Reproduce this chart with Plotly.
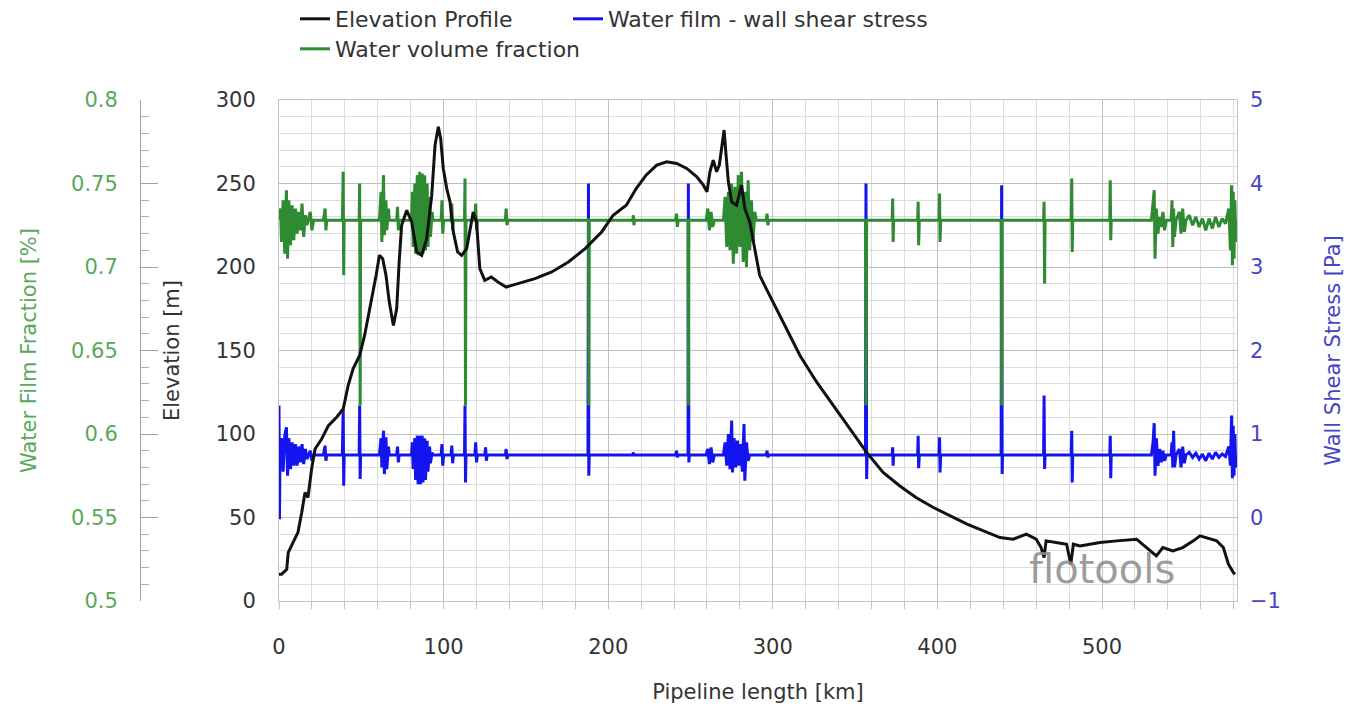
import plotly.graph_objects as go

# ---------------- data ----------------
elev_km = [0, 1.6, 4.7, 5.6, 8.5, 11.5, 13.8, 15.8, 17.6, 19.8, 21.9, 25.9, 30, 35, 39, 42, 45, 49,
           52, 56, 59, 61, 63, 65, 67, 69.5, 71.5, 73, 74.5, 77.6, 80.6, 83.7, 86.7, 89.7, 92.8,
           94.8, 96.8, 98.2, 99.8, 101.9, 103.9, 105.9, 108.5, 111, 114, 118, 120, 122, 125, 129,
           133, 138, 145, 155.5, 165.7, 175.8, 186, 196, 203, 211, 217, 223, 229.5, 235.5, 241.6,
           247.7, 253.8, 257.8, 260, 261.8, 263.8, 265.9, 267.5, 269, 270.4, 271.6, 273, 275, 278,
           281, 283, 286, 289, 292, 296, 306, 316.5, 326.7, 336.8, 347, 357, 367, 377, 387, 397.5,
           418, 438, 446, 454, 460, 463, 464.8, 466, 472, 478.5, 481, 482.6, 486.6, 498.8, 509,
           521, 527, 533, 537, 543, 549, 555.5, 559.5, 565.6, 569.7, 573.7, 576.8, 579.8, 580.8]
elev_m = [16, 16, 19, 29, 35, 41, 53, 65, 62, 79, 91, 97, 105, 110, 115, 129, 139, 147,
          159, 179, 195, 207, 205, 195, 179, 165, 175, 203, 225, 234, 227, 209, 207, 217, 243,
          273, 284, 277, 259, 247, 239, 221, 209, 207, 211, 233, 227, 199, 192, 194,
          191, 188, 190, 193, 197, 203, 211, 221, 231, 237, 247, 255, 261, 263, 262,
          259, 254, 249, 245, 257, 264, 257, 261, 271, 282, 267, 251, 239, 237,
          249, 235, 227, 211, 195, 187, 167, 147, 131, 117, 103, 89, 77, 69, 62, 56,
          46, 38, 37, 40, 37, 32, 26, 36, 35, 34, 22, 34, 33, 35, 36,
          37, 32, 27, 32, 30, 32, 36, 39, 37, 36, 32, 22, 17, 16]

wvf_km = [0, 1, 1.5, 2.5, 3.5, 4.5, 5.2, 6, 7, 8, 9, 10, 11, 12, 13, 14, 15, 16, 17, 19, 20, 21,
          27, 28, 28.5, 29, 38.5, 39, 39.3, 39.6, 48.7, 49, 49.3, 49.6,
          61, 62, 62.5, 63.5, 64, 65, 65.5, 66.5, 67, 71.5, 72, 72.5, 73,
          80.5, 81, 81.5, 82.5, 83, 84, 84.5, 85.5, 86, 87, 87.5, 88.5, 89, 90, 90.5, 91.5, 92, 93, 93.5,
          98.5, 99, 99.5, 100, 104.5, 105, 105.5, 106, 112.7, 113, 113.3, 113.6,
          119, 119.5, 120, 120.5, 137.5, 138, 138.5, 139, 187.7, 188, 188.2, 188.5,
          215, 215.3, 215.6, 216, 241, 241.5, 242, 242.5, 248.5, 248.7, 249, 249.3,
          259.5, 260.5, 261.5, 262.5, 263.5, 264.5,
          270, 271, 272, 273, 274, 275, 276, 277, 278, 279, 280, 281, 282, 283, 284, 285, 286, 287, 288, 289, 290,
          296, 296.5, 297, 297.5, 356.3, 356.6, 357, 357.3, 372.5, 372.8, 373.1, 373.4,
          388, 388.3, 388.6, 389, 401, 401.3, 401.6, 402, 438.7, 439, 439.3, 439.6,
          464.5, 464.8, 465.1, 465.4, 481.3, 481.6, 481.9, 482.2, 504.7, 505, 505.3, 505.6,
          530, 531, 531.7, 532.2, 533, 534, 535, 536, 537, 538, 539,
          542, 542.5, 543, 543.5, 544, 545, 547, 548, 549, 550, 551,
          553, 555, 557, 559, 561, 563, 565, 567, 569, 571, 573, 575,
          577, 578, 578.7, 579.2, 579.7, 580.2, 580.7, 581.2, 582]
wvf_val = [0.728, 0.735, 0.715, 0.740, 0.708, 0.746, 0.705, 0.740, 0.713, 0.737, 0.716, 0.735, 0.720,
           0.733, 0.722, 0.738, 0.718, 0.731, 0.725, 0.733, 0.722, 0.728,
           0.728, 0.735, 0.722, 0.728, 0.728, 0.757, 0.695, 0.728, 0.728, 0.750, 0.617, 0.728,
           0.728, 0.745, 0.715, 0.755, 0.719, 0.740, 0.722, 0.735, 0.728, 0.728, 0.736, 0.722, 0.728,
           0.728, 0.745, 0.712, 0.750, 0.708, 0.755, 0.707, 0.757, 0.707, 0.756, 0.708, 0.755, 0.710,
           0.750, 0.712, 0.742, 0.718, 0.733, 0.728,
           0.728, 0.740, 0.720, 0.728, 0.728, 0.738, 0.722, 0.728, 0.728, 0.753, 0.617, 0.728,
           0.728, 0.738, 0.722, 0.728, 0.728, 0.735, 0.725, 0.728, 0.728, 0.729, 0.617, 0.728,
           0.728, 0.731, 0.725, 0.728, 0.728, 0.732, 0.724, 0.728, 0.728, 0.617, 0.728, 0.728,
           0.728, 0.735, 0.722, 0.733, 0.724, 0.728,
           0.728, 0.742, 0.712, 0.745, 0.710, 0.750, 0.702, 0.748, 0.708, 0.755, 0.712, 0.757, 0.703,
           0.745, 0.700, 0.752, 0.710, 0.740, 0.715, 0.733, 0.728,
           0.728, 0.732, 0.725, 0.728, 0.728, 0.617, 0.728, 0.728, 0.728, 0.741, 0.715, 0.728,
           0.728, 0.739, 0.713, 0.728, 0.728, 0.744, 0.715, 0.728, 0.728, 0.617, 0.728, 0.728,
           0.728, 0.739, 0.690, 0.728, 0.728, 0.753, 0.709, 0.728, 0.728, 0.752, 0.716, 0.728,
           0.728, 0.738, 0.746, 0.705, 0.735, 0.720, 0.730, 0.724, 0.733, 0.722, 0.728,
           0.728, 0.740, 0.712, 0.735, 0.718, 0.728, 0.733, 0.720, 0.735, 0.721, 0.728,
           0.731, 0.725, 0.730, 0.724, 0.729, 0.722, 0.729, 0.723, 0.730, 0.724, 0.729, 0.726,
           0.735, 0.710, 0.749, 0.701, 0.745, 0.705, 0.740, 0.715, 0.728]

wss_km = [0, 0.3, 0.6, 1.5, 2.5, 3.5, 4.5, 5.2, 6, 7, 8, 9, 10, 11, 12, 13, 14, 15, 16, 17, 19, 20, 21,
          27, 28, 28.5, 29, 38.5, 39, 39.3, 39.6, 48.7, 49, 49.3, 49.6,
          61, 62, 62.5, 63.5, 64, 65, 65.5, 66.5, 67, 71.5, 72, 72.5, 73,
          80.5, 81, 81.5, 82.5, 83, 84, 84.5, 85.5, 86, 87, 87.5, 88.5, 89, 90, 90.5, 91.5, 92, 93, 93.5,
          98.5, 99, 99.5, 100, 104.5, 105, 105.5, 106, 112.7, 113, 113.3, 113.6,
          119, 119.5, 120, 120.5, 125, 125.5, 126, 126.5, 137.5, 138, 138.5, 139, 187.7, 188, 188.2, 188.5,
          215, 215.3, 215.6, 216, 241, 241.5, 242, 242.5, 248.5, 248.7, 249, 249.3,
          259.5, 260.5, 261.5, 262.5, 263.5, 264.5,
          270, 271, 272, 273, 274, 275, 275.5, 276.5, 277.5, 278.5, 279.5, 280.5, 281.5, 282.5, 283, 284, 285, 286,
          296, 296.5, 297, 297.5, 356.3, 356.6, 357, 357.3, 372.5, 372.8, 373.1, 373.4,
          388, 388.3, 388.6, 389, 401, 401.3, 401.6, 402, 438.7, 439, 439.3, 439.6,
          464.5, 464.8, 465.1, 465.4, 481.3, 481.6, 481.9, 482.2, 504.7, 505, 505.3, 505.6,
          530, 531, 531.7, 532.2, 533, 534, 535, 536, 537, 538, 539,
          542, 542.5, 543, 543.5, 544, 545, 547, 548, 549, 550, 551,
          553, 555, 557, 559, 561, 563, 565, 567, 569, 571, 573, 575,
          577, 578, 578.7, 579.2, 579.7, 580.2, 580.7, 581.2, 582]
wss_val = [1.34, -0.02, 0.75, 0.95, 0.55, 0.98, 1.08, 0.50, 0.95, 0.58, 0.90, 0.62, 0.88, 0.62, 0.85,
           0.66, 0.88, 0.64, 0.82, 0.70, 0.80, 0.68, 0.75,
           0.75, 0.86, 0.68, 0.75, 0.75, 1.30, 0.38, 0.75, 0.75, 1.34, 0.46, 0.75,
           0.75, 0.95, 0.60, 1.04, 0.52, 0.96, 0.58, 0.85, 0.75, 0.75, 0.85, 0.66, 0.75,
           0.75, 0.90, 0.58, 0.95, 0.45, 0.98, 0.40, 0.98, 0.40, 0.98, 0.42, 0.95, 0.45, 0.92, 0.55,
           0.85, 0.65, 0.78, 0.75,
           0.75, 0.88, 0.62, 0.75, 0.75, 0.86, 0.65, 0.75, 0.75, 1.34, 0.42, 0.75,
           0.75, 0.90, 0.66, 0.75, 0.75, 0.84, 0.68, 0.75, 0.75, 0.82, 0.70, 0.75, 0.75, 4.0, 0.50, 0.75,
           0.75, 0.78, 0.74, 0.75, 0.75, 0.80, 0.72, 0.75, 0.75, 4.0, 0.66, 0.75,
           0.75, 0.82, 0.64, 0.84, 0.66, 0.75,
           0.75, 0.90, 0.62, 1.00, 0.58, 1.16, 0.54, 0.95, 0.60, 0.92, 0.62, 0.88, 0.55, 1.12, 0.44,
           0.90, 0.68, 0.75,
           0.75, 0.80, 0.72, 0.75, 0.75, 4.0, 0.46, 0.75, 0.75, 0.84, 0.62, 0.75,
           0.75, 0.98, 0.59, 0.75, 0.75, 0.96, 0.54, 0.75, 0.75, 3.98, 0.52, 0.75,
           0.75, 1.46, 0.58, 0.75, 0.75, 1.04, 0.42, 0.75, 0.75, 0.98, 0.47, 0.75,
           0.75, 0.90, 1.13, 0.50, 0.95, 0.62, 0.82, 0.66, 0.80, 0.68, 0.75,
           0.75, 0.90, 0.60, 1.04, 0.60, 0.75, 0.82, 0.60, 0.85, 0.65, 0.75,
           0.78, 0.72, 0.77, 0.70, 0.76, 0.68, 0.77, 0.70, 0.78, 0.72, 0.76, 0.73,
           0.85, 0.62, 1.22, 0.47, 1.10, 0.50, 1.00, 0.60, 0.75]

x_ticks = [0, 100, 200, 300, 400, 500]

# ---------------- styling ----------------
FONT = "DejaVu Sans"
GREEN = "#2E8B32"
GREEN_TXT = "#5AA85A"
BLUE = "#1414F0"
BLUE_TXT = "#4545C8"
DARK = "#333333"

W, H = 1348, 714
# plot area in pixels (whole figure used as paper, zero margins)
PL, PR, PT, PB = 279, 1237, 100, 601
xdom = [PL / W, PR / W]
ydom = [1 - PB / H, 1 - PT / H]
pos_green = 140 / W


def lx(px):
    return px / W


def ly(py):
    return 1 - py / H


fig = go.Figure()
fig.add_trace(go.Scatter(x=wss_km, y=wss_val, mode="lines", name="Water film - wall shear stress",
                         line=dict(color=BLUE, width=3), yaxis="y", legend="legend2"))
fig.add_trace(go.Scatter(x=wvf_km, y=wvf_val, mode="lines", name="Water volume fraction",
                         line=dict(color=GREEN, width=3), yaxis="y2", legend="legend3"))
fig.add_trace(go.Scatter(x=elev_km, y=elev_m, mode="lines", name="Elevation Profile",
                         line=dict(color="#111111", width=3), yaxis="y3", legend="legend"))

fig.add_annotation(x=500, y=19, xref="x", yref="y3", text="flotools", showarrow=False,
                   font=dict(family=FONT, size=40, color="rgba(140,140,140,0.85)"))

leg_common = dict(orientation="h", xanchor="left", yanchor="top",
                  font=dict(size=22, color=DARK), bgcolor="rgba(0,0,0,0)")

fig.update_layout(
    width=W, height=H,
    margin=dict(l=0, r=0, t=0, b=0, autoexpand=False),
    paper_bgcolor="white", plot_bgcolor="white",
    font=dict(family=FONT, size=21, color=DARK),
    xaxis=dict(domain=xdom, range=[0, 582], tickvals=x_ticks, showgrid=True,
               gridcolor="#bfbfbf", gridwidth=1, zeroline=False,
               showline=True, linecolor="#c4c4c4", mirror=True,
               ticks="", ticklabelstandoff=27, automargin=False,
               minor=dict(dtick=20, showgrid=True, gridcolor="#dcdcdc", ticks="outside",
                          ticklen=7, tickcolor="#c4c4c4"),
               title=dict(text="Pipeline length [km]", standoff=26, font=dict(size=21)),
               tickfont=dict(size=21, color=DARK)),
    yaxis=dict(domain=ydom, range=[-1, 5], dtick=1, side="right", anchor="x", showgrid=False,
               zeroline=False, showline=False, ticks="", ticklabelstandoff=12, automargin=False,
               tickfont=dict(size=21, color=BLUE_TXT),
               title=dict(text="Wall Shear Stress [Pa]", standoff=45,
                          font=dict(size=21, color=BLUE_TXT))),
    yaxis2=dict(range=[0.5, 0.8], dtick=0.05, overlaying="y", side="left", anchor="free",
                position=pos_green, showgrid=False, zeroline=False, automargin=False,
                showline=True, linecolor="#a0a0a0", linewidth=1,
                ticks="inside", ticklen=17, tickcolor="#a0a0a0", ticklabelstandoff=18,
                minor=dict(dtick=0.01, ticks="inside", ticklen=8, tickcolor="#b0b0b0"),
                tickfont=dict(size=21, color=GREEN_TXT),
                title=dict(text="Water Film Fraction [%]", standoff=27,
                           font=dict(size=21, color=GREEN_TXT))),
    yaxis3=dict(range=[0, 300], dtick=50, overlaying="y", side="left", anchor="x",
                showgrid=True, gridcolor="#bfbfbf", zeroline=False, automargin=False,
                showline=True, linecolor="#c4c4c4", mirror=True, ticks="", ticklabelstandoff=18,
                minor=dict(dtick=10, showgrid=True, gridcolor="#dcdcdc"),
                tickfont=dict(size=21, color=DARK),
                title=dict(text="Elevation [m]", standoff=30, font=dict(size=21, color=DARK))),
    legend=dict(x=lx(295), y=ly(-2), **leg_common),
    legend2=dict(x=lx(568), y=ly(-2), **leg_common),
    legend3=dict(x=lx(295), y=ly(28), **leg_common),
    showlegend=True,
)

fig.write_html("out.html")
